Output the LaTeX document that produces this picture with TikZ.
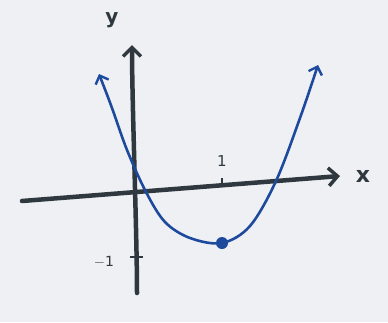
\documentclass[tikz,border=0pt]{standalone}
\usepackage{fontspec}
\setmainfont{DejaVu Sans}
\usetikzlibrary{arrows.meta}
\definecolor{paper}{HTML}{EEF0F3}
\definecolor{ink}{HTML}{2F383E}
\definecolor{pen}{HTML}{1E4A9E}
\tikzset{
  axis/.style={draw=ink, line width=4.5pt, line cap=round, -{Straight Barb[length=9pt,width=18pt,line width=3.5pt]}},
  curve/.style={draw=pen, line width=2.6pt, line cap=round, line join=round},
  lbl/.style={text=ink, inner sep=0pt},
  tickmark/.style={draw=ink, line width=1.6pt},
}
\begin{document}
\begin{tikzpicture}[x=1pt,y=-1pt]
\fill[paper] (0,0) rectangle (388,322);
\useasboundingbox (0,0) rectangle (388,322);
% axes
\coordinate (xl) at (22,201);
\coordinate (xr) at (340,176);
\coordinate (yb) at (137,293);
\coordinate (yt) at (132,45);
\draw[axis] (xl) -- (xr);
\draw[axis] (yb) to[out=90,in=-90,looseness=0.6] (yt);
% ticks
\coordinate (t1a) at (222,178);
\coordinate (t1b) at (222,187);
\draw[tickmark] (t1a) -- (t1b);
\coordinate (tma) at (130,257);
\coordinate (tmb) at (143,257);
\draw[tickmark] (tma) -- (tmb);
% labels
\node[lbl, font=\bfseries\fontsize{20}{22}\selectfont] (ylab) at (112,20) {y};
\node[lbl, font=\bfseries\fontsize{22}{24}\selectfont] (xlab) at (363,176) {x};
\node[lbl, font=\fontsize{15}{16}\selectfont] (one) at (222,161) {1};
\node[lbl, font=\fontsize{14}{16}\selectfont] (mone) at (104,262) {$-$1};
% parabola
\coordinate (pmin) at (222,243);
\draw[curve, {Straight Barb[length=7pt,width=14pt,line width=2.4pt]}-{Straight Barb[length=7pt,width=14pt,line width=2.4pt]}]
  plot[smooth, tension=0.55] coordinates {(99,74) (112,108) (127,150) (146,192) (165,222) (190,238) (222,243) (250,226) (276,181) (300,118) (318,65)};
\fill[pen] (pmin) circle (6pt);
\end{tikzpicture}
\end{document}
